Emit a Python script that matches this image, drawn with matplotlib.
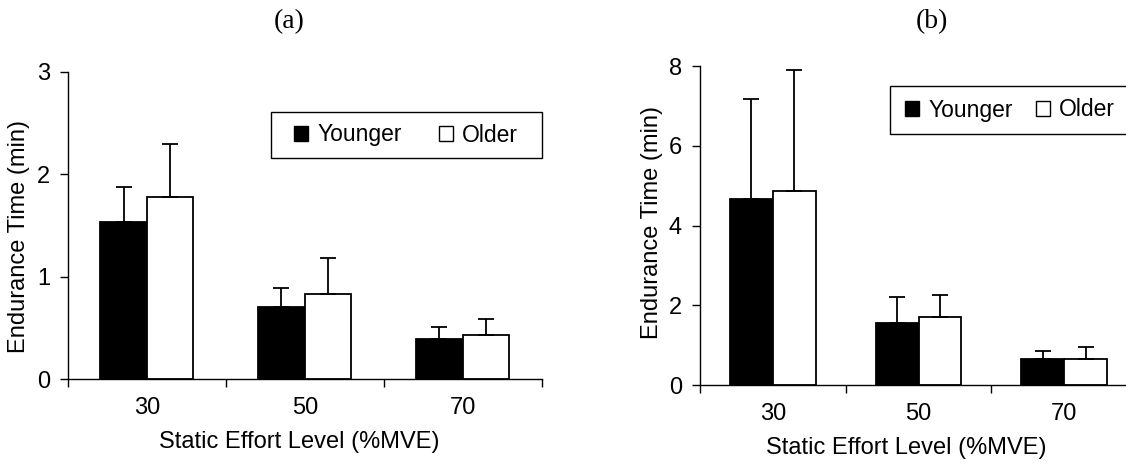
import numpy as np
import matplotlib
matplotlib.use('Agg')
import matplotlib.pyplot as plt
from matplotlib.patches import Patch, Rectangle

plt.rcParams['font.family'] = ['Liberation Sans', 'DejaVu Sans']

levels = ['30', '50', '70']
groups = ['Younger', 'Older']

# panel (a)
a_young = [1.53, 0.705, 0.39]
a_young_sd = [0.35, 0.185, 0.117]
a_old = [1.775, 0.835, 0.426]
a_old_sd = [0.525, 0.351, 0.159]

# panel (b)
b_young = [4.66, 1.56, 0.66]
b_young_sd = [2.50, 0.65, 0.20]
b_old = [4.855, 1.70, 0.65]
b_old_sd = [3.045, 0.55, 0.31]

W, H = 1126, 466
fig = plt.figure(figsize=(W / 100, H / 100), dpi=100)
FS = 17
LFS = 16.5


def px_axes(left, top, right, bottom):
    return fig.add_axes([left / W, 1 - bottom / H, (right - left) / W, (bottom - top) / H])


def draw_panel(ax, young, young_sd, old, old_sd, ymax, ystep, xl, yl):
    x = np.arange(len(levels)) + 0.5
    bw = 0.295
    ax.bar(x - bw / 2, young, bw, color='black', edgecolor='black', linewidth=1.3, zorder=2)
    ax.bar(x + bw / 2, old, bw, color='white', edgecolor='black', linewidth=1.3, zorder=2)
    ax.errorbar(x - bw / 2, young, yerr=[np.zeros(3), young_sd], fmt='none',
                ecolor='black', elinewidth=1.3, capsize=5.5, capthick=1.3, zorder=3)
    ax.errorbar(x + bw / 2, old, yerr=[np.zeros(3), old_sd], fmt='none',
                ecolor='black', elinewidth=1.3, capsize=5.5, capthick=1.3, zorder=3)
    ax.set_xlim(0, len(levels))
    ax.set_ylim(0, ymax)
    ax.set_yticks(np.arange(0, ymax + 0.01, ystep))
    ax.set_yticklabels([str(int(v)) for v in np.arange(0, ymax + 0.01, ystep)])
    ax.set_xticks(np.arange(len(levels) + 1))
    ax.set_xticklabels([])
    ax.set_xticks(x, minor=True)
    ax.set_xticklabels(levels, minor=True)
    ax.tick_params(axis='x', which='major', direction='out', length=6, width=1)
    ax.tick_params(axis='x', which='minor', length=0, pad=13, labelsize=FS)
    ax.tick_params(axis='y', direction='out', length=6, width=1, pad=7, labelsize=FS)
    for s in ['top', 'right']:
        ax.spines[s].set_visible(False)
    for s in ['left', 'bottom']:
        ax.spines[s].set_linewidth(1)
    ax.set_xlabel('Static Effort Level (%MVE)', fontsize=FS)
    ax.xaxis.set_label_coords(*xl)
    ax.xaxis.label.set_va('center')
    ax.set_ylabel('Endurance Time (min)', fontsize=FS)
    ax.yaxis.set_label_coords(*yl)
    ax.yaxis.label.set_va('center')


def draw_legend(box, anchor_x, colspace):
    l, t, r, b = box
    fig.patches.append(Rectangle((l / W, 1 - b / H), (r - l) / W, (b - t) / H,
                                 transform=fig.transFigure, facecolor='white',
                                 edgecolor='black', linewidth=1, zorder=5))
    handles = [Patch(facecolor='black', edgecolor='black', linewidth=1),
               Patch(facecolor='white', edgecolor='black', linewidth=1)]
    leg = fig.legend(handles, groups, loc='center left',
                     bbox_to_anchor=(anchor_x / W, 1 - (t + b) / 2 / H),
                     ncol=2, frameon=False, fontsize=LFS, borderpad=0, borderaxespad=0,
                     handlelength=0.62, handleheight=0.62, handletextpad=0.4,
                     columnspacing=colspace)
    leg.set_zorder(6)


ax1 = px_axes(68, 72, 541.5, 379)
draw_panel(ax1, a_young, a_young_sd, a_old, a_old_sd, 3, 1, (0.488, -0.205), (-0.1035, 0.465))

ax2 = px_axes(700, 66, 1137, 385)
draw_panel(ax2, b_young, b_young_sd, b_old, b_old_sd, 8, 2, (0.471, -0.197), (-0.11, 0.51))

draw_legend((271, 112, 542, 158), 294, 1.6)
draw_legend((890, 86, 1165, 134), 905, 1.0)

fig.text(289 / W, 1 - 22 / H, '(a)', ha='center', va='center', fontsize=20,
         family=['Liberation Serif', 'DejaVu Serif'])
fig.text(932 / W, 1 - 22 / H, '(b)', ha='center', va='center', fontsize=20,
         family=['Liberation Serif', 'DejaVu Serif'])

fig.savefig('out.png', dpi=100)
